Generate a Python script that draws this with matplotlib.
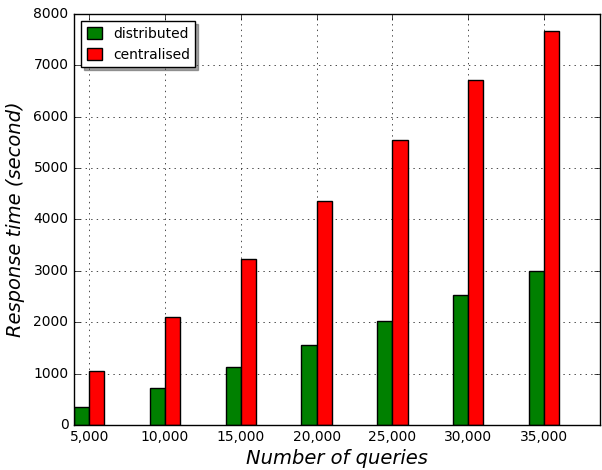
import numpy as np
import matplotlib
matplotlib.use("Agg")
import matplotlib.pyplot as plt

queries = [5000, 10000, 15000, 20000, 25000, 30000, 35000]
tick_labels = ["5,000", "10,000", "15,000", "20,000", "25,000", "30,000", "35,000"]
distributed = [350, 725, 1135, 1555, 2030, 2530, 2995]
centralised = [1050, 2105, 3230, 4360, 5550, 6715, 7675]

plt.style.use("classic")
fig = plt.figure(figsize=(6.02, 4.70), dpi=100)
ax = fig.add_axes([0.123, 0.096, 0.874, 0.874])

width = 1000
x = np.array(queries)
ax.bar(x - width, distributed, width, align="edge", color="green",
       edgecolor="black", label="distributed")
ax.bar(x, centralised, width, align="edge", color="red",
       edgecolor="black", label="centralised")

ax.set_xlim(4000, 38700)
ax.set_ylim(0, 8000)
ax.set_xticks(queries)
ax.set_xticklabels(tick_labels)
ax.tick_params(labelsize=10)
ax.grid(True, linestyle=":", color="black")
ax.set_axisbelow(True)

ax.set_xlabel("Number of queries", fontsize=14, style="italic", labelpad=3)
ax.set_ylabel("Response time (second)", fontsize=14, style="italic", labelpad=6)
ax.legend(loc="upper left", shadow=True, fontsize=10,
          handlelength=1.1, handleheight=0.95, handletextpad=0.8,
          borderaxespad=0.5)

fig.savefig("out.png", dpi=100, facecolor="white")
